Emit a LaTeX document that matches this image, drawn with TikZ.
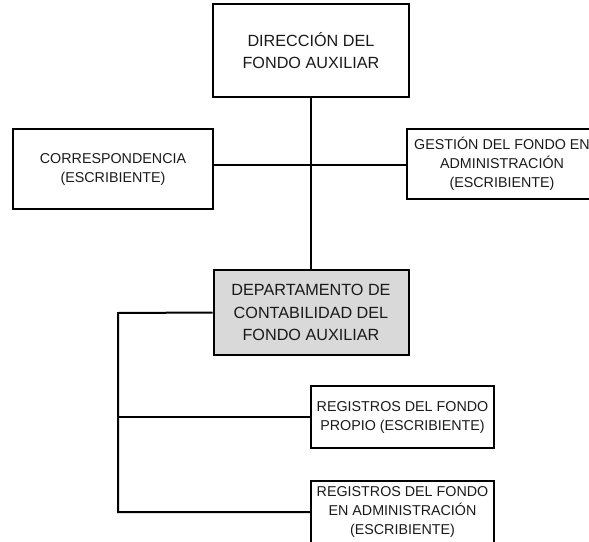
\documentclass[tikz,border=0pt]{standalone}
\usepackage{fontspec}
\setmainfont{Liberation Sans}
\definecolor{deptgray}{HTML}{D9D9D9}
\begin{document}
\begin{tikzpicture}[x=1pt,y=-1pt,
  box/.style={draw=black, line width=2pt, rectangle, inner sep=0pt, align=center, text=black!90},
  bigtext/.style={font=\fontsize{16.2}{22.8}\selectfont},
  smalltext/.style={font=\fontsize{14.3}{19}\selectfont},
  conn/.style={draw=black, line width=2pt}]
\useasboundingbox (0,0) rectangle (589,541);
\clip (0,0) rectangle (589,541);
\node[box,bigtext,minimum width=196pt,minimum height=93pt] (top) at (311,50.5) {DIRECCIÓN DEL\\FONDO AUXILIAR};
\node[box,smalltext,minimum width=200pt,minimum height=80pt] (corr) at (113,169) {CORRESPONDENCIA\\(ESCRIBIENTE)};
\node[box,smalltext,minimum width=190pt,minimum height=70pt] (gest) at (502,164) {GESTIÓN DEL FONDO EN\\ADMINISTRACIÓN\\(ESCRIBIENTE)};
\node[box,bigtext,fill=deptgray,minimum width=195pt,minimum height=85pt] (dept) at (311,312.5) {DEPARTAMENTO DE\\CONTABILIDAD DEL\\FONDO AUXILIAR};
\node[box,smalltext,minimum width=183pt,minimum height=62pt] (reg1) at (402.5,417) {REGISTROS DEL FONDO\\PROPIO (ESCRIBIENTE)};
\node[box,smalltext,minimum width=183pt,minimum height=62pt] (reg2) at (402.5,512) {REGISTROS DEL FONDO\\EN ADMINISTRACIÓN\\(ESCRIBIENTE)};
\coordinate (h) at (311,165);
\coordinate (bus) at (118,313);
\draw[conn] (top.south) -- (dept.north);
\draw[conn] (corr.east |- h) -- (gest.west |- h);
\draw[conn] (dept.west) -- (bus) |- (reg2.west);
\draw[conn] (reg1.west) -- (reg1.west -| bus);
\end{tikzpicture}
\end{document}
